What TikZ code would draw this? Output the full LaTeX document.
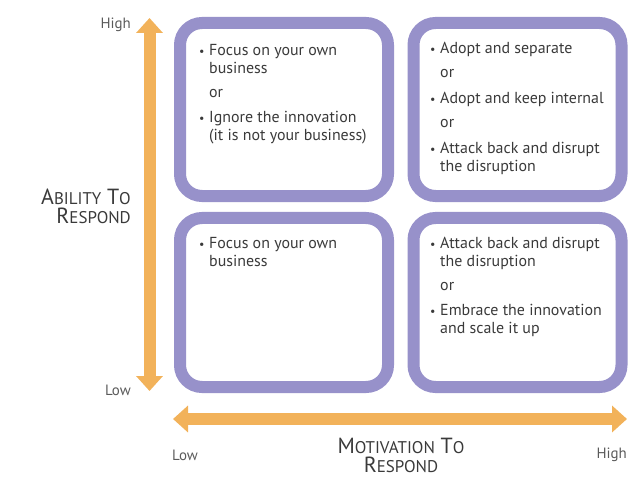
\documentclass[tikz,border=0pt]{standalone}
\usepackage{fontspec}
\setmainfont{PT Sans}
\usetikzlibrary{arrows.meta}
\definecolor{boxpurple}{HTML}{9791CA}
\definecolor{axisorange}{HTML}{F2B25A}
\definecolor{txtgray}{HTML}{3A3A3A}
\definecolor{lblgray}{HTML}{5A5A5A}
\newcommand{\blt}{\makebox[10bp][l]{\fontsize{12}{12}\selectfont\textbullet}}
\newcommand{\ind}{\hspace*{10bp}}
\newcommand{\fakesc}[2]{{\fontsize{22}{22}\selectfont #1}{\fontsize{17}{22}\selectfont #2}}
\begin{document}
\begin{tikzpicture}[x = 1bp, y = -1bp,
                    qbox/.style = {shape = rectangle,
                                   draw = boxpurple,
                                   line width = 12bp,
                                   rounded corners = 22bp,
                                   fill = white,
                                   minimum width = 208bp},
                    qtext/.style = {anchor = north west,
                                    inner sep = 0pt,
                                    align = left,
                                    text = txtgray,
                                    font = \fontsize{16}{18}\selectfont},
                    lbl/.style = {inner sep = 0pt,
                                  text = lblgray,
                                  font = \fontsize{15}{15}\selectfont},
                    caplbl/.style = {inner sep = 0pt,
                                     text = txtgray,
                                     font = \fontsize{22}{19}\selectfont},
                    axis/.style = {draw = axisorange,
                                   line width = 12bp,
                                   {Triangle[width=26bp,length=15bp]}-{Triangle[width=26bp,length=15bp]}}]
		\useasboundingbox (0,0) rectangle (637,481);
		% quadrants
		\node[qbox, minimum height = 173bp] (tl) at (284,109.5) {};
		\node[qbox, minimum height = 173bp] (tr) at (517.5,109.5) {};
		\node[qbox, minimum height = 169bp] (bl) at (284,302.5) {};
		\node[qbox, minimum height = 169bp] (br) at (517.5,302.5) {};
		\node[qtext] (tltext) at (199,44) {\blt Focus on your own\\ \ind business\\[6bp]
			\ind or\\[7bp] \blt Ignore the innovation\\ \ind (it is not your business)};
		\node[qtext] (trtext) at (430,42) {\blt Adopt and separate\\[6bp] \ind or\\[8bp]
			\blt Adopt and keep internal\\[6bp] \ind or\\[8bp]
			\blt Attack back and disrupt\\ \ind the disruption};
		\node[qtext] (bltext) at (199,237) {\blt Focus on your own\\ \ind business};
		\node[qtext] (brtext) at (430,237) {\blt Attack back and disrupt\\ \ind the disruption\\[6bp]
			\ind or\\[7bp] \blt Embrace the innovation\\ \ind and scale it up};
		% axes
		\coordinate (vtop) at (149.5,18);
		\coordinate (vbot) at (149.5,391);
		\coordinate (hleft) at (173,419);
		\coordinate (hright) at (627,419);
		\path[axis] (vbot) -- (vtop);
		\path[axis] (hleft) -- (hright);
		\node[lbl, anchor = east] (yhigh) at (131,25) {High};
		\node[lbl, anchor = east] (ylow) at (131,390) {Low};
		\node[lbl, anchor = west] (xlow) at (172,455) {Low};
		\node[lbl, anchor = east] (xhigh) at (627,455) {High};
		\node[caplbl, align = right, anchor = east] (ylabel) at (131,206)
			{\fakesc{A}{BILITY} \fakesc{T}{O}\\ \fakesc{R}{ESPOND}};
		\node[caplbl, align = center] (xlabel) at (401,455)
			{\fakesc{M}{OTIVATION} \fakesc{T}{O}\\ \fakesc{R}{ESPOND}};
	\end{tikzpicture}
\end{document}
